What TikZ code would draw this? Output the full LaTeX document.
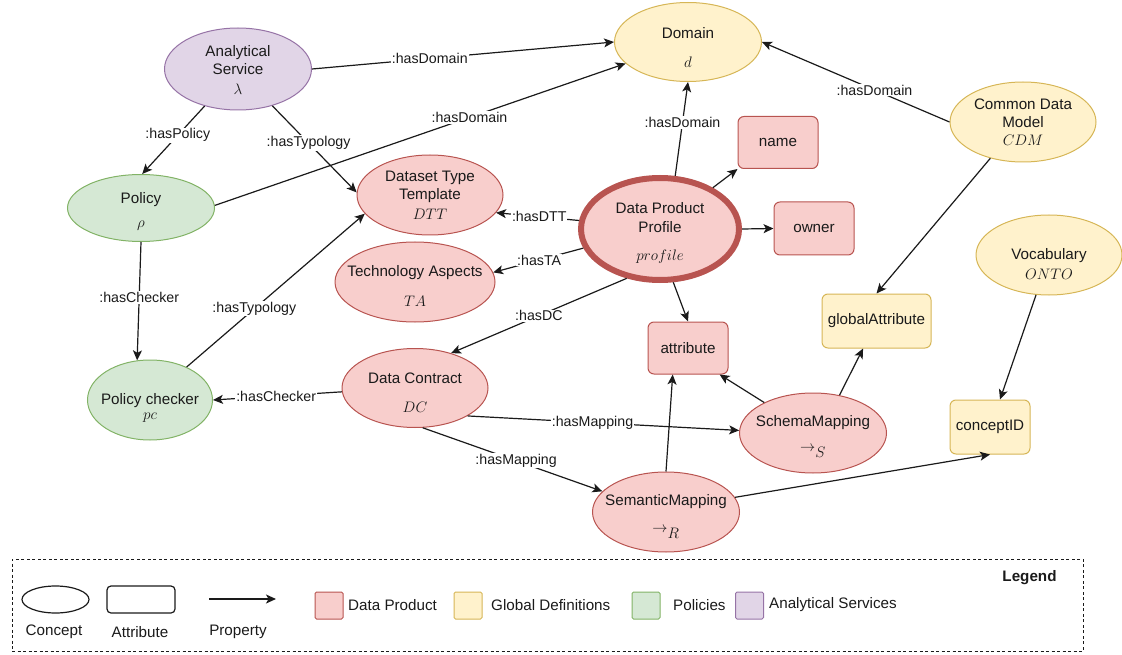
\documentclass[tikz,border=0pt]{standalone}
\usepackage{fix-cm}
\usepackage{fontspec}
\setmainfont{Liberation Sans}
\usetikzlibrary{arrows.meta,shapes.geometric}
\definecolor{dpF}{HTML}{F8CECC}
\definecolor{dpD}{HTML}{B85450}
\definecolor{gdF}{HTML}{FFF2CC}
\definecolor{gdD}{HTML}{D6B656}
\definecolor{plF}{HTML}{D5E8D4}
\definecolor{plD}{HTML}{82B366}
\definecolor{asF}{HTML}{E1D5E7}
\definecolor{asD}{HTML}{9673A6}
\definecolor{ink}{HTML}{1A1A1A}
\newcommand{\dgnf}{\fontsize{15.2pt}{18pt}\selectfont}
\newcommand{\dglf}{\fontsize{14.2pt}{17pt}\selectfont}
\begin{document}
\begin{tikzpicture}[x=1pt,y=-1pt,
  ell/.style={ellipse, draw, line width=1pt, minimum width=146pt, minimum height=80pt, inner sep=0pt},
  attrbox/.style={rectangle, rounded corners=6pt, draw, line width=1pt, minimum width=80pt, minimum height=53pt, inner sep=0pt, font=\dgnf, text=ink},
  dp/.style={fill=dpF, draw=dpD},
  gd/.style={fill=gdF, draw=gdD},
  pl/.style={fill=plF, draw=plD},
  as/.style={fill=asF, draw=asD},
  txt/.style={align=center, inner sep=0pt, font=\dgnf, text=ink},
  lbl/.style={fill=white, inner sep=1pt, font=\dglf, text=ink},
  arr/.style={draw=ink, line width=1.2pt, -{Stealth[length=10pt,width=9pt,inset=2.5pt]}},
  legsq/.style={rectangle, rounded corners=1.5pt, line width=1pt, minimum width=28pt, minimum height=27pt, inner sep=0pt},
  legtxt/.style={anchor=west, inner sep=0pt, font=\dgnf, text=ink},
]
\useasboundingbox (0,0) rectangle (1122,655);

% ---------- concept nodes ----------
\node[ell, as, minimum width=147pt, minimum height=82pt] (as) at (238,69) {};
\node[txt] (asT) at (238,69.5) {Analytical\\Service\\[2pt]$\lambda$};

\node[ell, gd, minimum width=147pt, minimum height=79pt] (dom) at (688,42) {};
\node[txt] (domT) at (688,47.5) {Domain\\[11pt]$d$};

\node[ell, gd] (cdm) at (1023,122) {};
\node[txt] (cdmT) at (1023,122) {Common Data\\Model\\$CDM$};

\node[ell, gd] (voc) at (1049,255) {};
\node[txt] (vocT) at (1049,264) {Vocabulary\\[2pt]$ONTO$};

\node[ell, pl, minimum width=147pt, minimum height=67pt] (pol) at (141,208) {};
\node[txt] (polT) at (141,211) {Policy\\[6pt]$\rho$};

\node[ell, pl, minimum width=125pt] (pc) at (150,400) {};
\node[txt] (pcT) at (150,407.5) {Policy checker\\[-3pt]$pc$};

\node[ell, dp] (dtt) at (430,195) {};
\node[txt] (dttT) at (430,195) {Dataset Type\\Template\\[2pt]$DTT$};

\node[ell, dp, minimum width=160pt] (ta) at (415,282) {};
\node[txt] (taT) at (415,286) {Technology Aspects\\[12pt]$TA$};

\node[ell, dp, minimum height=79pt] (dc) at (415,388) {};
\node[txt] (dcT) at (415,392.5) {Data Contract\\[11pt]$DC$};

\node[ell, dp, line width=6pt, minimum width=158pt, minimum height=102pt] (dpp) at (660,229) {};
\node[txt] (dppT) at (660,232.5) {Data Product\\[1pt]Profile\\[10pt]$profile$};

\node[ell, dp, minimum width=147pt] (schm) at (813,433) {};
\node[txt] (schmT) at (813,436.5) {SchemaMapping\\[7pt]$\rightarrow_{\textstyle S}$};

\node[ell, dp, minimum width=147pt] (semm) at (666,512) {};
\node[txt] (semmT) at (666,516.5) {SemanticMapping\\[9pt]$\rightarrow_{\textstyle R}$};

% ---------- attribute nodes ----------
\node[attrbox, dp, minimum height=52pt] (name) at (778,142.5) {name};
\node[attrbox, dp] (owner) at (814,228.5) {owner};
\node[attrbox, dp, minimum height=52pt] (attr) at (688,348) {attribute};
\node[attrbox, gd, minimum width=109pt, minimum height=54pt] (ga) at (876.5,321) {globalAttribute};
\node[attrbox, gd, minimum height=54pt] (cid) at (990,427) {conceptID};

% ---------- connectors ----------
\draw[arr] (as.east) -- node[lbl, pos=0.39] {:hasDomain} (dom.west);
\draw[arr] (pol.2) -- node[lbl, pos=0.62] {:hasDomain} (dom.199);
\draw[arr] (as.228) -- node[lbl, pos=0.43] {:hasPolicy} (pol.88);
\draw[arr] (as.-47) -- node[lbl, pos=0.43] {:hasTypology} (dtt.178);
\draw[arr] (pol.south) -- node[lbl, pos=0.47] {:hasChecker} (pc.108);
\draw[arr] (pc.42) -- node[lbl, pos=0.38] {:hasTypology} (dtt.196);
\draw[arr] (dc.183) -- node[lbl, pos=0.51] {:hasChecker} (pc.east);
\draw[arr] (dpp.174) -- node[lbl, pos=0.48] {:hasDTT} (dtt.-15);
\draw[arr] (dpp.194) -- node[lbl, pos=0.49] {:hasTA} (ta.7);
\draw[arr] (dpp.236) -- node[lbl, pos=0.5] {:hasDC} (dc.44);
\draw[arr] (dpp.74) -- node[lbl, pos=0.57] {:hasDomain} (dom.south);
\draw[arr] (dpp.38) -- (name.south west);
\draw[arr] (dpp.east) -- (owner.west);
\draw[arr] (dpp.284) -- (attr.north);
\draw[arr] (cdm.west) -- node[lbl, pos=0.4] {:hasDomain} (dom.east);
\draw[arr] (cdm.228) -- (ga.north);
\draw[arr] (voc.252) -- (cid.70);
\draw[arr] (dc.-28) -- node[lbl, pos=0.46] {:hasMapping} (schm.178);
\draw[arr] (dc.281) -- node[lbl, pos=0.52] {:hasMapping} (semm.162);
\draw[arr] (semm.north) -- (attr.240);
\draw[arr] (schm.148) -- (attr.-40);
\draw[arr] (schm.55) -- (ga.244);
\draw[arr] (semm.12) -- (cid.south);

% ---------- legend ----------
\node[draw=ink, line width=1pt, dash pattern=on 3pt off 2.5pt, rectangle, inner sep=0pt,
      minimum width=1071pt, minimum height=92pt] (legbox) at (547.5,605) {};
\node[font=\dgnf\bfseries, text=ink, inner sep=0pt] (legT) at (1029.5,578) {Legend};

\node[ellipse, draw=ink, line width=1.2pt, minimum width=67pt, minimum height=27pt, inner sep=0pt] (lgell) at (55.5,599.5) {};
\node[rectangle, rounded corners=4pt, draw=ink, line width=1.2pt, minimum width=68pt, minimum height=27pt, inner sep=0pt] (lgrect) at (141,599.5) {};
\coordinate (lgA) at (209,599);
\coordinate (lgB) at (276,599);
\draw[arr] (lgA) -- (lgB);
\node[font=\dgnf, text=ink, inner sep=0pt] (lgellT) at (54,632) {Concept};
\node[font=\dgnf, text=ink, inner sep=0pt] (lgrectT) at (140,632) {Attribute};
\node[font=\dgnf, text=ink, inner sep=0pt] (lgarrT) at (238,632) {Property};

\node[legsq, dp] (lgdp) at (329,605.5) {};
\node[legtxt] (lgdpT) at (348,605) {Data Product};
\node[legsq, gd] (lggd) at (468,605.5) {};
\node[legtxt] (lggdT) at (491,605) {Global Definitions};
\node[legsq, pl] (lgpl) at (646,605.5) {};
\node[legtxt] (lgplT) at (673,605) {Policies};
\node[legsq, as] (lgas) at (749.5,605.5) {};
\node[legtxt] (lgasT) at (769,605) {Analytical Services};
\end{tikzpicture}
\end{document}
